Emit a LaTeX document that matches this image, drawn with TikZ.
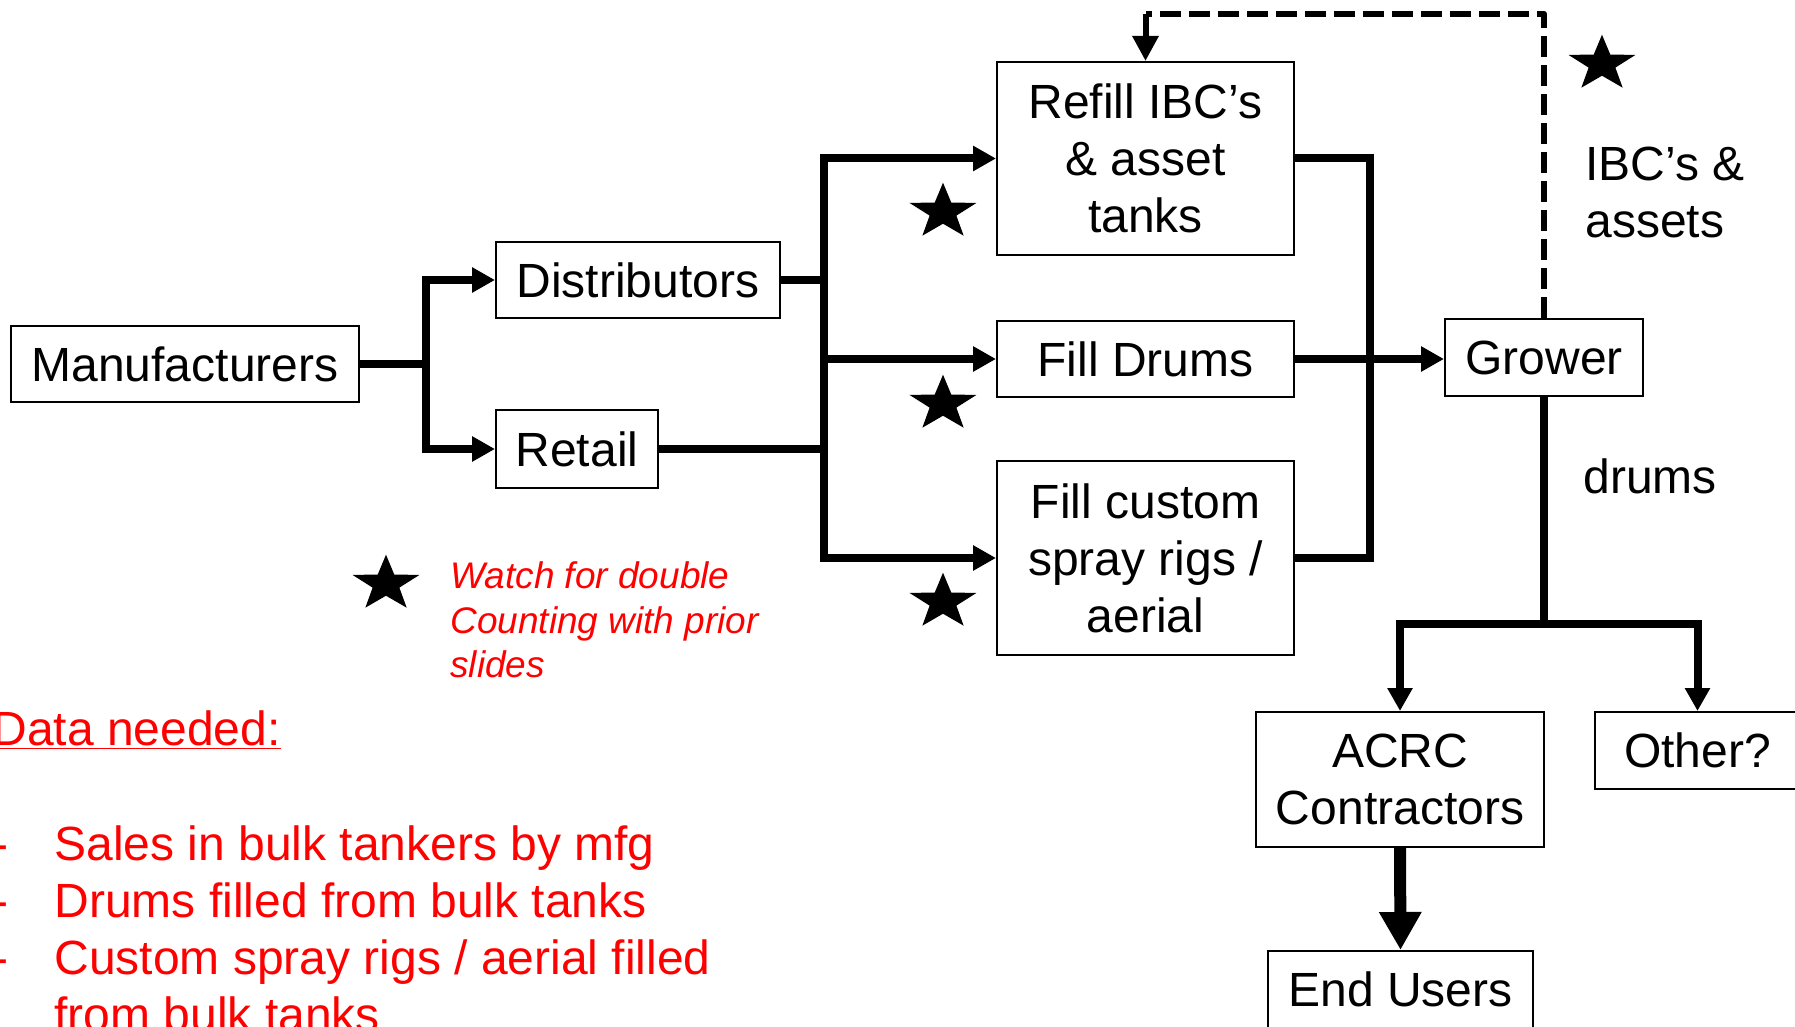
\documentclass[tikz,border=0pt]{standalone}
\usepackage{fontspec}
\setmainfont{Liberation Sans}
\usetikzlibrary{arrows.meta,shapes.geometric}
\definecolor{notered}{RGB}{255,0,0}
\tikzset{
  box/.style={draw=black, line width=1pt, inner sep=0pt, align=center,
    font=\fontsize{24}{28.5}\selectfont},
  conn/.style={line width=4pt},
  arr/.style={-{Triangle[length=11.5pt,width=12pt]}},
  bigarr/.style={line width=6pt, -{Triangle[length=19pt,width=20pt]}},
  dashconn/.style={line width=3.25pt, dash pattern=on 10.5pt off 4pt, line join=round},
  thinarr/.style={line width=3pt, -{Triangle[length=12.5pt,width=12.5pt]}},
  starmark/.style={star, star points=5, star point ratio=2.5, fill=black,
    draw=none, minimum size=29.3pt, inner sep=0pt, transform shape},
  lbl/.style={inner sep=0pt, font=\fontsize{24}{28.5}\selectfont},
}
\begin{document}
\begin{tikzpicture}[x=0.5pt,y=-0.5pt]
\useasboundingbox (0,0) rectangle (1795,1027);
\clip (0,0) rectangle (1795,1027);

% boxes
\node[box, minimum width=174pt, minimum height=38pt] (man) at (185,364) {Manufacturers};
\node[box, minimum width=142pt, minimum height=38pt] (dist) at (638,280) {Distributors};
\node[box, minimum width=81pt, minimum height=39pt] (ret) at (577,449) {Retail};
\node[box, minimum width=148.5pt, minimum height=96.5pt] (refill) at (1145.5,158.5) {Refill IBC’s\\ \& asset\\ tanks};
\node[box, minimum width=148.5pt, minimum height=38pt] (drums) at (1145.5,359) {Fill Drums};
\node[box, minimum width=148.5pt, minimum height=97pt] (custom) at (1145.5,558) {Fill custom\\ spray rigs /\\ aerial};
\node[box, minimum width=99pt, minimum height=38.5pt] (grower) at (1544,357.5) {Grower};
\node[box, minimum width=144pt, minimum height=67.5pt] (acrc) at (1400,779.5) {ACRC\\ Contractors};
\node[box, minimum width=102.5pt, minimum height=38.5pt] (other) at (1697.5,750.5) {Other?};
\node[box, minimum width=132.5pt, minimum height=38.5pt] (endu) at (1400.5,989.5) {End Users};

% manufacturers split
\coordinate (j1) at (426,364);
\draw[conn] (man.east) -- (j1);
\draw[conn,arr] (j1) |- (dist.west);
\draw[conn,arr] (j1) |- (ret.west);

% first bus
\coordinate (bus1) at (824,0);
\draw[conn] (dist.east) -- (dist.east -| bus1);
\draw[conn] (ret.east) -- (ret.east -| bus1);
\draw[conn,arr] (ret.east -| bus1) |- (refill.west);
\draw[conn,arr] (ret.east -| bus1) |- (custom.west);
\draw[conn,arr] (dist.east -| bus1) |- (drums.west);

% second bus
\draw[conn] (refill.east) -- ++(75,0) |- (custom.east);
\draw[conn,arr] (drums.east) -- (drums.east -| grower.west);

% grower split
\coordinate (g2) at (1544,624);
\draw[conn] (grower.south) -- (g2);
\draw[conn,arr] (g2) -| (acrc.north);
\draw[conn,arr] (g2) -| (other.north);
\draw[bigarr] (acrc.south) -- (endu.north);

% dashed return
\coordinate (dc) at (1145.5,14);
\draw[dashconn] (grower.north) |- (dc);
\draw[thinarr] (dc) -- (refill.north);

% stars (slightly wider than tall)
\begin{scope}[shift={(943,212)}, xscale=1.2]
  \node[starmark] (s1) at (0,0) {};
\end{scope}
\begin{scope}[shift={(943,404)}, xscale=1.2]
  \node[starmark] (s2) at (0,0) {};
\end{scope}
\begin{scope}[shift={(943,602)}, xscale=1.2]
  \node[starmark] (s3) at (0,0) {};
\end{scope}
\begin{scope}[shift={(1602,64)}, xscale=1.2]
  \node[starmark] (s4) at (0,0) {};
\end{scope}
\begin{scope}[shift={(386,584)}, xscale=1.2]
  \node[starmark] (s5) at (0,0) {};
\end{scope}

% labels
\node[lbl, anchor=west, align=left] (ibc) at (1585,192) {IBC’s \&\\ assets};
\node[lbl, anchor=west] (drl) at (1583,476) {drums};

\node[inner sep=0pt, anchor=west, align=left, text=notered,
  font=\itshape\fontsize{18.5}{22.25}\selectfont] (note) at (450,620)
  {Watch for double\\ Counting with prior\\ slides};

\node[lbl, anchor=base west, text=notered] (dn) at (-8,745) {\underline{Data needed:}};

\node[lbl, anchor=north west, align=left, text=notered] (list) at (-8,825)
  {\makebox[31pt][l]{-}Sales in bulk tankers by mfg\\
   \makebox[31pt][l]{-}Drums filled from bulk tanks\\
   \makebox[31pt][l]{-}Custom spray rigs / aerial filled\\
   \hspace*{31pt}from bulk tanks};
\end{tikzpicture}
\end{document}
